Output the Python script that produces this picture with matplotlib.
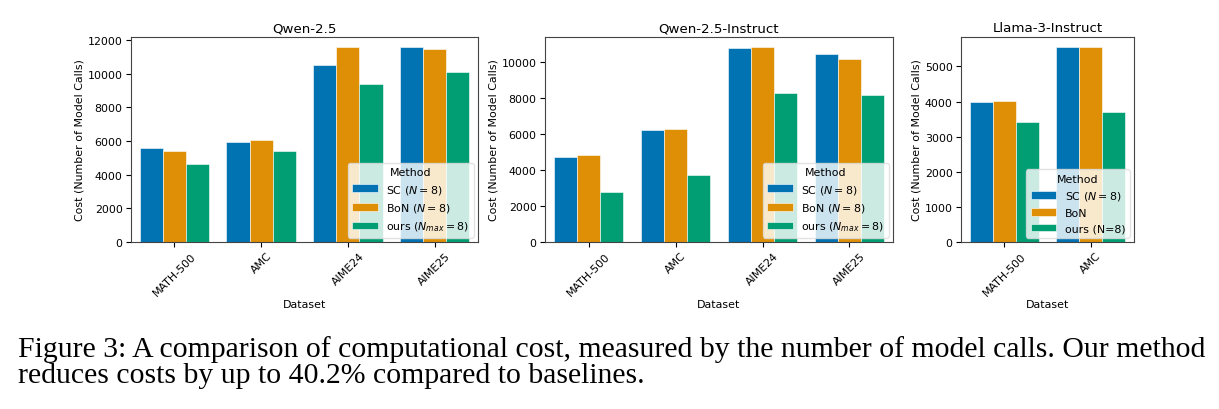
import matplotlib
matplotlib.use("Agg")
import matplotlib.pyplot as plt
import numpy as np

# ---- data ----
titles = ["Qwen-2.5", "Qwen-2.5-Instruct", "Llama-3-Instruct"]
datasets_a = ["MATH-500", "AMC", "AIME24", "AIME25"]
datasets_c = ["MATH-500", "AMC"]

qwen_sc = [5575, 5970, 10500, 11600]
qwen_bon = [5400, 6070, 11570, 11490]
qwen_ours = [4660, 5420, 9400, 10120]

qwen_inst_sc = [4720, 6220, 10780, 10410]
qwen_inst_bon = [4810, 6280, 10830, 10130]
qwen_inst_ours = [2780, 3740, 8240, 8170]

llama_sc = [3980, 5560]
llama_bon = [4010, 5560]
llama_ours = [3410, 3690]

labels_ab = [r"SC ($N=8$)", r"BoN ($N=8$)", r"ours ($N_{max}=8$)"]
labels_c = [r"SC ($N=8$)", "BoN", "ours (N=8)"]

caption_lines = ["Figure 3: A comparison of computational cost, measured by the number of model calls. Our method",
                 "reduces costs by up to 40.2% compared to baselines."]

colors = ["#0173B2", "#DE8F05", "#029E73"]

W, H = 1219, 410
fig = plt.figure(figsize=(W / 100, H / 100), dpi=100)

def add_ax(l, r, t, b):
    return fig.add_axes([l / W, 1 - b / H, (r - l) / W, (b - t) / H])

panels = [
    (add_ax(131, 478, 38, 243), datasets_a, [qwen_sc, qwen_bon, qwen_ours], labels_ab, titles[0]),
    (add_ax(545, 893, 38, 243), datasets_a, [qwen_inst_sc, qwen_inst_bon, qwen_inst_ours], labels_ab, titles[1]),
    (add_ax(961, 1134, 38, 243), datasets_c, [llama_sc, llama_bon, llama_ours], labels_c, titles[2]),
]

fs = 7.9
for ax, cats, series, labs, title in panels:
    x = np.arange(len(cats))
    w = 0.8 / 3
    for i, (vals, lab) in enumerate(zip(series, labs)):
        ax.bar(x + (i - 1) * w, vals, width=w, color=colors[i], label=lab,
               edgecolor="white", linewidth=0.4)
    ax.set_xticks(x)
    ax.set_xticklabels(cats, rotation=45, fontsize=fs)
    ax.tick_params(axis="y", labelsize=fs, pad=2.5)
    ax.tick_params(axis="x", pad=2.5)
    ax.set_xlim(-0.5, len(cats) - 0.5)
    ax.set_xlabel("Dataset", fontsize=fs, labelpad=1.5)
    ax.set_ylabel("Cost (Number of Model Calls)", fontsize=fs, labelpad=2)
    ax.set_title(title, fontsize=9.6, pad=4)
    for s in ax.spines.values():
        s.set_color("#444444")
        s.set_linewidth(0.8)
    leg = ax.legend(title="Method", loc="lower right", fontsize=fs, title_fontsize=fs,
                    framealpha=0.8, borderaxespad=0.4, handlelength=2.3)
    leg.get_frame().set_edgecolor("#dddddd")

for line, yb in zip(caption_lines, [357, 383]):
    fig.text(18 / W, 1 - yb / H, line, fontsize=21.4, family="Liberation Serif",
             ha="left", va="baseline")

fig.savefig("out.png", dpi=100)
